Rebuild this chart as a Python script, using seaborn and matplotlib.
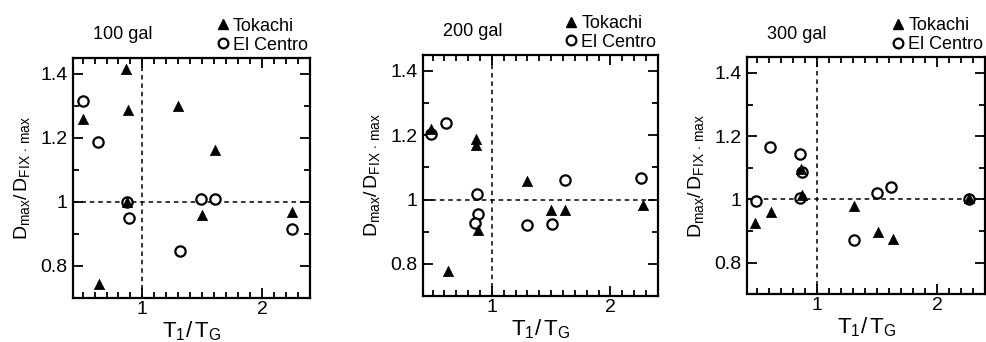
import pandas as pd
import matplotlib
matplotlib.use("Agg")
import matplotlib.pyplot as plt
import seaborn as sns
from matplotlib.lines import Line2D
from matplotlib.ticker import MultipleLocator, FixedLocator

# --- data (x = T1/TG, y = Dmax/DFIX.max) ---
levels = ["100 gal", "200 gal", "300 gal"]

tok_x_100 = [0.50, 0.86, 0.88, 0.64, 1.30, 1.61, 1.50, 2.25, 0.87]
tok_y_100 = [1.26, 1.415, 1.287, 0.744, 1.30, 1.162, 0.96, 0.967, 1.00]
elc_x_100 = [0.50, 0.63, 0.87, 0.89, 1.49, 1.61, 1.31, 2.25]
elc_y_100 = [1.316, 1.188, 1.00, 0.95, 1.008, 1.01, 0.847, 0.915]

tok_x_200 = [0.484, 0.864, 0.864, 0.632, 0.88, 1.30, 1.50, 1.62, 2.27]
tok_y_200 = [1.22, 1.188, 1.17, 0.779, 0.905, 1.059, 0.966, 0.966, 0.983]
elc_x_200 = [0.49, 0.615, 0.875, 0.887, 0.858, 1.30, 1.51, 1.62, 2.26]
elc_y_200 = [1.204, 1.238, 1.017, 0.956, 0.928, 0.92, 0.923, 1.06, 1.067]

tok_x_300 = [0.489, 0.619, 0.87, 0.879, 1.31, 1.506, 1.636, 2.27]
tok_y_300 = [0.925, 0.959, 1.096, 1.015, 0.98, 0.898, 0.873, 1.003]
elc_x_300 = [0.49, 0.61, 0.864, 0.876, 0.86, 1.31, 1.50, 1.62, 2.27]
elc_y_300 = [0.996, 1.166, 1.143, 1.087, 1.003, 0.87, 1.019, 1.038, 1.00]

rows = []
for lvl, tx, ty, ex, ey in [
    ("100 gal", tok_x_100, tok_y_100, elc_x_100, elc_y_100),
    ("200 gal", tok_x_200, tok_y_200, elc_x_200, elc_y_200),
    ("300 gal", tok_x_300, tok_y_300, elc_x_300, elc_y_300),
]:
    rows += [(lvl, "Tokachi", x, y) for x, y in zip(tx, ty)]
    rows += [(lvl, "El Centro", x, y) for x, y in zip(ex, ey)]
df = pd.DataFrame(rows, columns=["level", "wave", "ratio", "disp"])

sns.set_style("ticks")
plt.rcParams["font.family"] = ["Liberation Sans", "DejaVu Sans"]
plt.rcParams["mathtext.fontset"] = "custom"
plt.rcParams["mathtext.rm"] = "Liberation Sans"
plt.rcParams["mathtext.it"] = "Liberation Sans"
for k in ["text.color", "axes.labelcolor", "xtick.color", "ytick.color",
          "axes.edgecolor"]:
    plt.rcParams[k] = "black"

fig = plt.figure(figsize=(9.87, 3.42), dpi=100)
boxes = [
    [0.074, 0.129, 0.240, 0.702],
    [0.4286, 0.1345, 0.238, 0.705],
    [0.757, 0.140, 0.241, 0.693],
]

for lvl, box in zip(levels, boxes):
    ax = fig.add_axes(box)
    sub = df[df["level"] == lvl]
    ax.axvline(1, color="black", ls=(0, (3, 2.5)), lw=1.1, zorder=1)
    ax.axhline(1, color="black", ls=(0, (3, 2.5)), lw=1.1, zorder=1)
    sns.scatterplot(data=sub[sub["wave"] == "El Centro"], x="ratio", y="disp",
                    marker="o", s=55, facecolor="white", edgecolor="black",
                    linewidth=1.6, ax=ax, zorder=3)
    sns.scatterplot(data=sub[sub["wave"] == "Tokachi"], x="ratio", y="disp",
                    marker="^", s=55, color="black", edgecolor="black",
                    linewidth=0.5, ax=ax, zorder=4)

    ax.set_xlim(0.42, 2.40)
    ax.set_ylim(0.70, 1.45)
    ax.xaxis.set_major_locator(FixedLocator([1, 2]))
    ax.xaxis.set_minor_locator(MultipleLocator(0.1))
    ax.yaxis.set_major_locator(FixedLocator([0.8, 1.0, 1.2, 1.4]))
    ax.yaxis.set_minor_locator(MultipleLocator(0.1))
    ax.set_yticklabels(["0.8", "1", "1.2", "1.4"])
    ax.set_xticklabels(["1", "2"])
    ax.tick_params(which="both", direction="in", top=True, right=True,
                   width=1.3, labelsize=14, pad=2)
    ax.tick_params(axis="y", pad=4)
    ax.tick_params(which="major", length=7)
    ax.tick_params(which="minor", length=4)
    for sp in ax.spines.values():
        sp.set_linewidth(1.6)

    ax.set_xlabel(r"$\mathrm{T_1/\,T_G}$", fontsize=16, labelpad=1)
    ax.set_ylabel(r"$\mathrm{D_{max}/\,D_{FIX\,\cdot\,max}}$", fontsize=14, labelpad=6)
    ax.text(0.21, 1.06, lvl, transform=ax.transAxes, ha="center", va="bottom",
            fontsize=13)

    handles = [
        Line2D([], [], marker="^", ls="none", color="black", markersize=7),
        Line2D([], [], marker="o", ls="none", markerfacecolor="white",
               markeredgecolor="black", markeredgewidth=1.6, markersize=7),
    ]
    ax.legend(handles, ["Tokachi", "El Centro"], loc="lower right",
              bbox_to_anchor=(1.0, 1.01), frameon=False, fontsize=13,
              handletextpad=0.1, handlelength=0.9, borderpad=0.1,
              labelspacing=0.1, borderaxespad=0.0)

fig.savefig("out.png", dpi=100)
